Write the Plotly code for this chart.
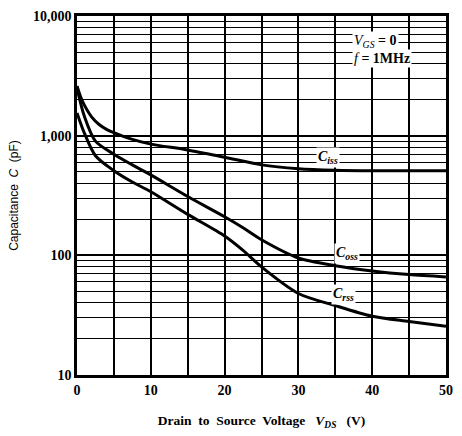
import plotly.graph_objects as go

V_iss = [0, 0.5, 1, 2, 3, 4, 5, 7.5, 10, 15, 20, 25, 30, 35, 40, 45, 50]
Ciss = [2600, 2100, 1800, 1430, 1240, 1130, 1060, 930, 850, 760, 660, 570, 530, 515, 510, 510, 510]
V = [0, 1, 2.5, 5, 7.5, 10, 15, 20, 22.5, 25, 30, 35, 40, 45, 50]
Coss = [2500, 1450, 900, 700, 570, 470, 310, 210, 170, 135, 95, 82, 74, 69, 66]
Crss = [1550, 1050, 680, 510, 410, 340, 220, 145, 110, 80, 48, 38, 31, 28, 25.5]

y_major = [10, 100, 1000, 10000]
y_major_text = ["10", "100", "1,000", "10,000"]
y_minor = [m * d for d in (10, 100, 1000) for m in range(2, 10)]
x_major = [0, 10, 20, 30, 40, 50]
x_minor = [5, 15, 25, 35, 45]

serif = "Liberation Serif, Times New Roman, serif"

fig = go.Figure()
for xs, ys in ((V_iss, Ciss), (V, Coss), (V, Crss)):
    fig.add_trace(go.Scatter(x=xs, y=ys, mode="lines",
                             line=dict(color="black", width=3, shape="spline", smoothing=0.8),
                             showlegend=False, hoverinfo="skip"))

fig.update_layout(
    width=462, height=436,
    margin=dict(l=77, r=9, t=15, b=56),
    paper_bgcolor="white", plot_bgcolor="white",
    font=dict(family=serif, color="black", size=12),
)
fig.update_xaxes(
    range=[0, 50], tickmode="array", tickvals=x_major,
    ticktext=["<b>%d</b>" % v for v in x_major],
    showgrid=True, gridcolor="black", gridwidth=1.6,
    minor=dict(tickmode="array", tickvals=x_minor, showgrid=True,
               gridcolor="black", gridwidth=1.6),
    showline=True, linecolor="black", linewidth=2.5, mirror=True,
    ticks="", zeroline=False,
    tickfont=dict(family=serif, size=14),
    title=dict(text="<b>Drain  to  Source  Voltage   <i>V</i><sub><i>DS</i></sub>   (V)</b>",
               font=dict(family=serif, size=13.5), standoff=20),
)
fig.update_yaxes(
    type="log", range=[1, 4], tickmode="array", tickvals=y_major,
    ticktext=["<b>%s</b>" % t for t in y_major_text],
    showgrid=True, gridcolor="black", gridwidth=1.6,
    minor=dict(tickmode="array", tickvals=y_minor, showgrid=True,
               gridcolor="black", gridwidth=1.4),
    showline=True, linecolor="black", linewidth=2.5, mirror=True,
    ticks="", zeroline=False,
    tickfont=dict(family=serif, size=14),
    title=dict(text="Capacitance  <i>C</i>  (pF)",
               font=dict(family="Liberation Sans Narrow, Arial Narrow, sans-serif", size=12),
               standoff=12),
)

anns = [
    dict(x=357, y=41, text="<i>V</i><sub><i>GS</i></sub><b> = 0</b>", xanchor="left"),
    dict(x=357, y=58, text="<i>f</i><b> = 1MHz</b>", xanchor="left"),
    dict(x=333, y=159, text="<i><b>C</b></i><sub><i><b>iss</b></i></sub>", xanchor="center"),
    dict(x=352, y=256, text="<i><b>C</b></i><sub><i><b>oss</b></i></sub>", xanchor="center"),
    dict(x=349, y=298, text="<i><b>C</b></i><sub><i><b>rss</b></i></sub>", xanchor="center"),
]
for a in anns:
    fig.add_annotation(
        x=(a["x"] - 77) / (453 - 77), y=1 - (a["y"] - 15) / (380 - 15),
        xref="paper", yref="paper", text=a["text"], showarrow=False,
        xanchor=a["xanchor"], yanchor="middle", bgcolor="white",
        font=dict(family=serif, size=14, color="black"), borderpad=1,
    )

fig.write_html("out.html")
